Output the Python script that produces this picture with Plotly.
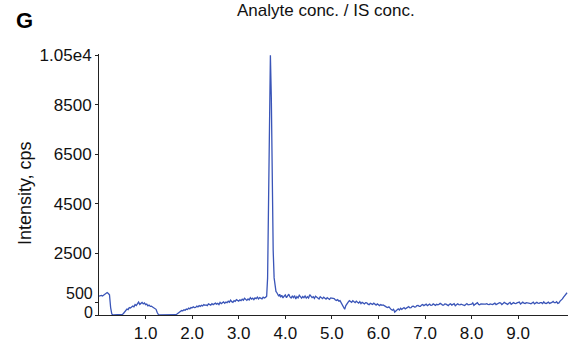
import plotly.graph_objects as go

SAMPLE_STEP = 0.025  # acquisition interval of the baseline scans (min)

# Detector response (cps) from 0.000 min, one value per scan
intensity_early = [
    760, 775, 790, 770, 815, 830, 880, 910, 870, 820,
    300, 40, 0, 0, 0, 0, 0, 0, 0, 0,
    20, 60, 130, 170, 240, 220, 300, 280, 340, 360,
    330, 420, 380, 440, 520, 430, 470, 510, 450, 490,
    420, 440, 370, 400, 350, 360, 320, 290, 260, 230,
    100, 20, 0, 0, 0, 0, 0, 0, 0, 0,
    0, 0, 0, 0, 0, 0, 10, 40, 70, 110,
    140, 180, 170, 210, 190, 240, 220, 280, 250, 300,
    290, 330, 300, 310, 360, 330, 380, 350, 390, 370,
    420, 390, 410, 380, 450, 430, 400, 460, 420, 450,
    480, 440, 470, 420, 510, 460, 490, 530, 470, 520,
    500, 560, 520, 600, 540, 510, 580, 550, 620, 590,
    560, 610, 580, 640, 600, 680, 620, 590, 650, 610,
    700, 640, 680, 620, 690, 660, 720, 650, 700, 680,
    650, 720, 690, 710,
]

# Analyte peak
peak_time = [3.60, 3.62, 3.64, 3.66, 3.68, 3.70, 3.72, 3.74, 3.76, 3.78,
             3.80, 3.82, 3.84, 3.86, 3.88]
peak_intensity = [760, 1500, 4500, 8200, 10500, 8800, 5200, 2600, 1500, 1200,
                  950, 900, 820, 760, 840]

# Detector response (cps) from 3.900 min, one value per scan
late_start = 3.90
intensity_late = [
    720, 800, 690, 760, 810, 700, 770, 840, 730, 690,
    760, 700, 780, 650, 740, 690, 800, 720, 680, 750,
    700, 770, 680, 740, 690, 820, 760, 700, 740, 670,
    760, 720, 690, 650, 740, 700, 660, 720, 690, 640,
    700, 660, 630, 690, 680, 640, 660, 610, 590, 620,
    560, 580, 500, 420, 300, 230, 380, 480, 520, 580,
    540, 510, 580, 530, 500, 560, 520, 480, 540, 460,
    510, 470, 450, 500, 490, 440, 420, 470, 450, 430,
    480, 440, 400, 450, 430, 380, 420, 390, 410, 360,
    350, 320, 300, 330, 260, 220, 190, 230, 120, 170,
    220, 250, 200, 270, 230, 260, 300, 250, 280, 320,
    340, 290, 300, 350, 360, 320, 330, 380, 390, 350,
    350, 400, 420, 380, 410, 440, 380, 420, 440, 390,
    400, 450, 410, 390, 430, 410, 430, 470, 440, 400,
    400, 450, 440, 390, 380, 430, 450, 400, 420, 460,
    370, 410, 450, 420, 410, 440, 430, 400, 380, 420,
    460, 410, 420, 450, 440, 490, 390, 430, 470, 500,
    430, 410, 450, 440, 420, 440, 440, 460, 430, 420,
    450, 430, 420, 450, 480, 420, 440, 470, 500, 480,
    420, 460, 510, 480, 450, 430, 480, 510, 430, 460,
    500, 470, 460, 490, 490, 520, 440, 470, 520, 480,
    460, 500, 500, 470, 470, 450, 490, 520, 450, 470,
    510, 480, 470, 500, 500, 460, 530, 480, 460, 490,
    520, 470, 480, 510, 550, 500, 500, 540, 470, 490,
    560, 600, 650, 720, 780, 850, 900,
]

y_tick_vals = [0, 500, 2500, 4500, 6500, 8500, 10500]
y_tick_text = ["", "", "2500", "4500", "6500", "8500", "1.05e4"]
x_tick_vals = [1.0, 2.0, 3.0, 4.0, 5.0, 6.0, 7.0, 8.0, 9.0]
x_tick_text = ["1.0", "2.0", "3.0", "4.0", "5.0", "6.0", "7.0", "8.0", "9.0"]

# Assemble the full trace on its scan time axis
time_early = [round(i * SAMPLE_STEP, 3) for i in range(len(intensity_early))]
time_late = [round(late_start + i * SAMPLE_STEP, 3) for i in range(len(intensity_late))]
time_min = time_early + peak_time + time_late
intensity_cps = intensity_early + peak_intensity + intensity_late

FONT = "Liberation Sans, Arial, Helvetica, sans-serif"

fig = go.Figure()
fig.add_trace(go.Scatter(
    x=time_min, y=intensity_cps, mode="lines",
    line=dict(color="#3a55b8", width=1.3),
    showlegend=False, hoverinfo="x+y",
))

fig.update_layout(
    width=574, height=349,
    margin=dict(l=99, r=6, t=54, b=25),
    paper_bgcolor="white", plot_bgcolor="white",
    font=dict(family=FONT, size=17, color="#111111"),
    xaxis=dict(
        range=[0, 10.07], tickvals=x_tick_vals, ticktext=x_tick_text,
        showline=True, linecolor="#222222", linewidth=1,
        ticks="outside", ticklen=3, tickcolor="#222222",
        showgrid=False, zeroline=False,
    ),
    yaxis=dict(
        range=[0, 10550], tickvals=y_tick_vals, ticktext=y_tick_text,
        showline=True, linecolor="#222222", linewidth=1,
        ticks="outside", ticklen=3, tickcolor="#222222",
        showgrid=False, zeroline=False,
    ),
)

# Low-end y labels set slightly apart so "0" and "500" do not collide
for val, shift in ((0, 3), (500, 9)):
    fig.add_annotation(
        x=0, xref="paper", y=val, yref="y", text=str(val),
        showarrow=False, xanchor="right", yanchor="middle",
        xshift=-5, yshift=shift, font=dict(size=16),
        borderpad=0,
    )

fig.add_annotation(
    x=0, xref="paper", xshift=-74, y=0.467, yref="paper",
    text="Intensity, cps", textangle=-90, showarrow=False,
    xanchor="center", yanchor="middle", font=dict(size=18),
)
fig.add_annotation(
    x=0, xref="paper", xshift=-75, y=1.0, yref="paper", yshift=34,
    text="<b>G</b>", showarrow=False, xanchor="center", yanchor="middle",
    font=dict(size=22, color="#000000"),
)
fig.add_annotation(
    x=0.485, xref="paper", y=1.0, yref="paper", yshift=44,
    text="Analyte conc. / IS conc.", showarrow=False,
    xanchor="center", yanchor="middle", font=dict(size=17),
)

fig.write_html("out.html")
